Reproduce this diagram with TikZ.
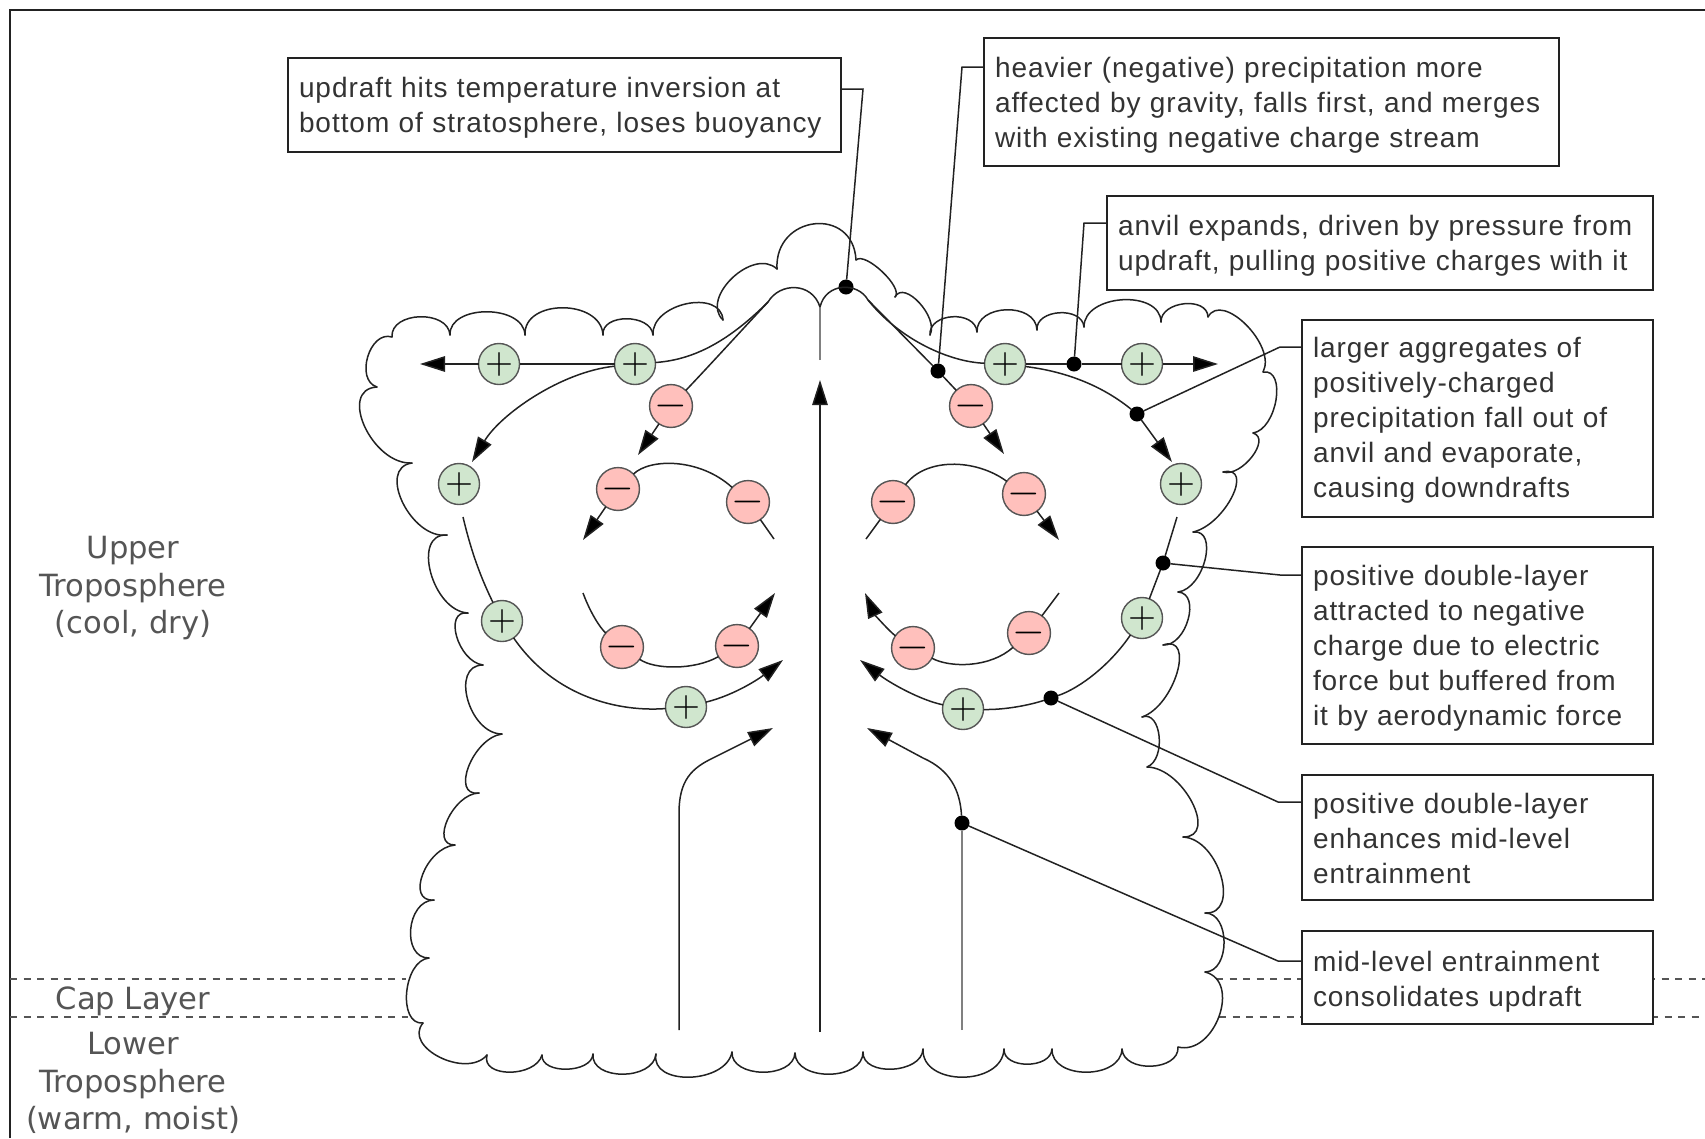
\documentclass[tikz,border=0pt]{standalone}
\usepackage{graphicx}
\usepackage{fontspec}
\setmainfont{Liberation Sans}
\newfontfamily\notefont[LetterSpace=3.4]{Liberation Sans}
\newfontfamily\labelfont{DejaVu Sans}
\usetikzlibrary{arrows.meta,calc}
\definecolor{inkc}{HTML}{222222}
\definecolor{txtc}{HTML}{333333}
\definecolor{lblc}{HTML}{555555}
\definecolor{posc}{HTML}{D0E6CE}
\definecolor{negc}{HTML}{FFC0BC}
\definecolor{faintc}{HTML}{808080}
\newcommand{\dn}[1]{\rule{0pt}{\dimexpr20pt+#1pt\relax}}
\newcommand{\plussign}{\scalebox{3.6}{$+$}}
\newcommand{\minussign}{\scalebox{4.2}{$-$}}
\tikzset{
  cloudline/.style={draw=inkc,line width=1.5pt,line cap=round},
  flow/.style={draw=inkc,line width=1.5pt},
  flowend/.style={flow,-{Triangle[length=25pt,width=15.5pt,fill=black]}},
  faint/.style={draw=faintc,line width=2.4pt},
  leader/.style={draw=inkc,line width=1.5pt},
  note/.style={draw=inkc,line width=2pt,fill=white,inner xsep=11pt,inner ysep=0pt,outer sep=0pt,align=left,text=txtc,font=\notefont\fontsize{28}{35}\selectfont},
  poscharge/.style={circle,draw=lblc,line width=1.4pt,fill=posc,minimum size=41pt,inner sep=0pt,outer sep=0pt,text=black},
  negcharge/.style={circle,draw=lblc,line width=1.4pt,fill=negc,minimum size=41pt,inner sep=0pt,outer sep=0pt,text=black},
  blob/.style={circle,fill=black,minimum size=15pt,inner sep=0pt,outer sep=0pt},
  layer/.style={align=center,text=lblc,font=\labelfont\fontsize{30.6}{37.5}\selectfont},
  bound/.style={draw=lblc,line width=1.5pt,dash pattern=on 7pt off 6.5pt},
  frameline/.style={draw=inkc,line width=2.5pt}
}
\begin{document}
\begin{tikzpicture}[x=1pt,y=-1pt]
\useasboundingbox (0,0) rectangle (1705,1138);
% frame
\draw[frameline] (10,1138) -- (10,10) -- (1705,10);
% layer boundaries
\coordinate (lla) at (10,979); \coordinate (llb) at (10,1017);
\coordinate (lra) at (1705,979); \coordinate (lrb) at (1705,1017);
\coordinate (cla) at (406,979); \coordinate (clb) at (408,1017);
\coordinate (cra) at (1216,979); \coordinate (crb) at (1219,1017);
\draw[bound] (lla) -- (cla); \draw[bound] (llb) -- (clb);
\draw[bound] (cra) -- (lra); \draw[bound] (crb) -- (lrb);
% layer labels
\node[layer] (upper) at (133,588.5) {Upper\\Troposphere\\(cool, dry)};
\node[layer] (cap) at (133,1001) {Cap Layer};
\node[layer] (lower) at (133,1083) {Lower\\Troposphere\\(warm, moist)};
% cloud
\xdef\ax{723}\xdef\ay{320}
\foreach \px/\py/\bx/\by in {
733/278/777/269, 815/224/856/260, 883/272/895/297, 920/303/930/335,
953/317/977/332, 1007/310/1037/330, 1060/313/1084/327, 1123/300/1161/322,
1185/304/1208/317, 1247/325/1263/372, 1277/400/1253/433, 1253/457/1223/472,
1233/497/1193/532, 1206/560/1178/592, 1189/620/1163/645, 1178/673/1142/717,
1160/737/1147/767, 1193/803/1183/837, 1222/877/1205/913, 1225/943/1205/972,
1220/1017/1178/1047, 1152/1067/1122/1049, 1087/1073/1052/1049, 1028/1065/1004/1049,
963/1078/923/1049, 893/1070/863/1052, 830/1075/795/1053, 763/1073/732/1052,
690/1078/656/1054, 623/1075/593/1054, 567/1070/542/1055, 510/1073/487/1055,
440/1058/423/1023, 407/993/429/958, 411/930/434/900, 423/875/455/845,
448/820/479/793, 469/767/502/734, 468/700/483/665, 457/637/468/613,
431/573/447/535, 403/503/412/463, 365/427/377/387, 368/357/392/337,
420/317/450/335, 487/312/525/335, 563/308/603/335, 627/319/653/335, 687/304/723/320}
{
  \draw[cloudline] (\ax,\ay) .. controls ($0.333*(\ax,\ay)+1.333*(\px,\py)-0.667*(\bx,\by)$) and ($0.333*(\bx,\by)+1.333*(\px,\py)-0.667*(\ax,\ay)$) .. (\bx,\by);
  \xdef\ax{\bx}\xdef\ay{\by}
}
% free ends and junctions of the flow lines
\coordinate (cusp) at (820,307);
\coordinate (domeL) at (768,302);
\coordinate (domeR) at (868,300);
\coordinate (coreTop) at (820,360);
\coordinate (coreBase) at (820,1032);
\coordinate (coreTip) at (820,380);
\coordinate (tipTL) at (420,364);
\coordinate (tipTR) at (1218,364);
\coordinate (tipL3) at (472,462);
\coordinate (tipR3) at (1172,462);
\coordinate (tipM1L) at (638,455);
\coordinate (tipM1R) at (1004,454);
\coordinate (tipM2L) at (583,540);
\coordinate (tipM2R) at (1059,540);
\coordinate (tailM3L) at (774,539);
\coordinate (tailM3R) at (866,539);
\coordinate (tailM4L) at (583,593);
\coordinate (tailM5R) at (1059,593);
\coordinate (tipM5L) at (775,593);
\coordinate (tipM4R) at (865,593);
\coordinate (tipP5L) at (783,660);
\coordinate (tipP5R) at (860,660);
\coordinate (tailPL) at (463,517);
\coordinate (tailPR) at (1177,517);
\coordinate (baseL) at (679,1030);
\coordinate (riseL) at (679,813);
\coordinate (bendL) at (713,758);
\coordinate (tipBL) at (773,728);
\coordinate (baseR) at (962,1030);
\coordinate (bendR) at (923,758);
\coordinate (tipBR) at (867,728);
% charges
\node[poscharge] (pL1) at (499,364) {\plussign};
\node[poscharge] (pL2) at (635,364) {\plussign};
\node[poscharge] (pL3) at (459,484) {\plussign};
\node[poscharge] (pL4) at (502,621) {\plussign};
\node[poscharge] (pL5) at (686,707) {\plussign};
\node[poscharge] (pR1) at (1005,364) {\plussign};
\node[poscharge] (pR2) at (1142,364) {\plussign};
\node[poscharge] (pR3) at (1181,484) {\plussign};
\node[poscharge] (pR4) at (1142,618) {\plussign};
\node[poscharge] (pR5) at (963,709) {\plussign};
\node[negcharge] (mL1) at (671,406) {\minussign};
\node[negcharge] (mL2) at (618,489) {\minussign};
\node[negcharge] (mL3) at (748,502) {\minussign};
\node[negcharge] (mL4) at (622,647) {\minussign};
\node[negcharge] (mL5) at (737,646) {\minussign};
\node[negcharge] (mR1) at (971,406) {\minussign};
\node[negcharge] (mR2) at (893,502) {\minussign};
\node[negcharge] (mR3) at (1024,494) {\minussign};
\node[negcharge] (mR4) at (913,648) {\minussign};
\node[negcharge] (mR5) at (1029,633) {\minussign};
% dots
\node[blob] (d1) at (846,287) {};
\node[blob] (d2) at (938,371) {};
\node[blob] (d3) at (1074,364) {};
\node[blob] (d4) at (1137,414) {};
\node[blob] (d5) at (1163,563) {};
\node[blob] (d6) at (1051,698) {};
\node[blob] (d7) at (962,823) {};
% central updraft
\draw[flowend] (coreBase) -- (coreTip);
\draw[faint] (coreTop) -- (cusp);
% dome
\draw[flow] (cusp) .. controls (812,282) and (780,282) .. (domeL);
\draw[flow] (cusp) .. controls (826,282) and (858,282) .. (domeR);
% left upper flows
\draw[flow] (domeL) .. controls (725,345) and (690,360) .. (pL2);
\draw[flow] (domeL) .. controls (740,332) and (710,365) .. (mL1);
\draw[flowend] (mL1) -- (tipM1L);
\draw[flow] (pL2) -- (pL1);
\draw[flowend] (pL1) -- (tipTL);
\draw[flowend] (pL2) .. controls (560,372) and (500,415) .. (tipL3);
\draw[flow] (tailPL) .. controls (472,555) and (482,580) .. (pL4);
\draw[flow] (pL4) .. controls (555,698) and (620,712) .. (pL5);
\draw[flowend] (pL5) .. controls (735,695) and (760,678) .. (tipP5L);
% left inner circulation
\draw[flow] (mL2) .. controls (650,458) and (700,458) .. (mL3);
\draw[flow] (mL3) -- (tailM3L);
\draw[flowend] (mL2) -- (tipM2L);
\draw[flow] (tailM4L) .. controls (590,612) and (600,628) .. (mL4);
\draw[flow] (mL4) .. controls (655,670) and (695,670) .. (mL5);
\draw[flowend] (mL5) -- (tipM5L);
% right upper flows
\draw[flow] (domeR) -- (d2);
\draw[flow] (d2) -- (mR1);
\draw[flowend] (mR1) -- (tipM1R);
\draw[flow] (domeR) .. controls (900,340) and (950,362) .. (pR1);
\draw[flow] (pR1) -- (d3);
\draw[flow] (d3) -- (pR2);
\draw[flowend] (pR2) -- (tipTR);
\draw[flow] (pR1) .. controls (1070,372) and (1105,388) .. (d4);
\draw[flowend] (d4) -- (tipR3);
\draw[flow] (tailPR) -- (d5);
\draw[flow] (d5) -- (pR4);
\draw[flow] (pR4) .. controls (1110,665) and (1080,688) .. (d6);
\draw[flow] (d6) .. controls (1030,705) and (1005,710) .. (pR5);
\draw[flowend] (pR5) .. controls (920,700) and (890,683) .. (tipP5R);
% right inner circulation
\draw[flow] (mR2) .. controls (925,458) and (975,458) .. (mR3);
\draw[flow] (mR2) -- (tailM3R);
\draw[flowend] (mR3) -- (tipM2R);
\draw[flow] (mR5) -- (tailM5R);
\draw[flow] (mR5) .. controls (990,668) and (950,668) .. (mR4);
\draw[flowend] (mR4) .. controls (890,632) and (875,615) .. (tipM4R);
% lower entrainment
\draw[flow] (baseL) -- (riseL) .. controls (679,780) and (692,768) .. (bendL);
\draw[flowend] (bendL) -- (tipBL);
\draw[faint] (baseR) -- (d7);
\draw[flow] (d7) .. controls (960,790) and (950,770) .. (bendR);
\draw[flowend] (bendR) -- (tipBR);
% notes
\node[note,minimum width=553pt,minimum height=94pt,text width=531pt] (b1) at (564.5,105) {\dn{6}updraft hits temperature inversion at\\bottom of stratosphere, loses buoyancy};
\node[note,minimum width=575pt,minimum height=128pt,text width=553pt] (b2) at (1271.5,102) {\dn{6}heavier (negative) precipitation more\\affected by gravity, falls first, and merges\\with existing negative charge stream};
\node[note,minimum width=546pt,minimum height=94pt,text width=524pt] (b3) at (1380,243) {\dn{5}anvil expands, driven by pressure from\\updraft, pulling positive charges with it};
\node[note,minimum width=351pt,minimum height=197pt,text width=329pt] (b4) at (1477.5,418.5) {\dn{4}larger aggregates of\\positively-charged\\precipitation fall out of\\anvil and evaporate,\\causing downdrafts};
\node[note,minimum width=351pt,minimum height=197pt,text width=329pt] (b5) at (1477.5,645.5) {\dn{5}positive double-layer\\attracted to negative\\charge due to electric\\force but buffered from\\it by aerodynamic force};
\node[note,minimum width=351pt,minimum height=125pt,text width=329pt] (b6) at (1477.5,837.5) {\dn{2}positive double-layer\\enhances mid-level\\entrainment};
\node[note,minimum width=351pt,minimum height=93pt,text width=329pt] (b7) at (1477.5,977.5) {\dn{9}mid-level entrainment\\consolidates updraft};
% leaders
\coordinate (k1) at (863,89);
\coordinate (k2) at (962,67);
\coordinate (k3) at (1084,223);
\coordinate (k4) at (1280,347);
\coordinate (k5) at (1280,575);
\coordinate (k6) at (1278,802);
\coordinate (k7) at (1278,961);
\draw[leader] (d1) -- (k1) -- (k1 -| b1.east);
\draw[leader] (d2) -- (k2) -- (k2 -| b2.west);
\draw[leader] (d3) -- (k3) -- (k3 -| b3.west);
\draw[leader] (d4) -- (k4) -- (k4 -| b4.west);
\draw[leader] (d5) -- (k5) -- (k5 -| b5.west);
\draw[leader] (d6) -- (k6) -- (k6 -| b6.west);
\draw[leader] (d7) -- (k7) -- (k7 -| b7.west);
\end{tikzpicture}
\end{document}
